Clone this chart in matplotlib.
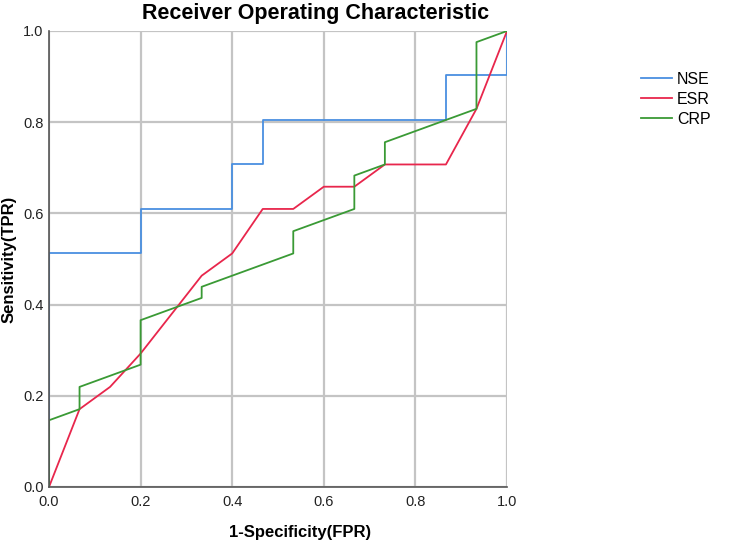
import numpy as np
import matplotlib
matplotlib.use("Agg")
import matplotlib.pyplot as plt

# ==== DATOS (FPR en quinceavos, TPR en cuarentaiunavos) ====
N_NEG = 15
N_POS = 41

nse_fp = [0, 0, 3, 3, 6, 6, 7, 7, 13, 13, 15, 15]
nse_tp = [0, 21, 21, 25, 25, 29, 29, 33, 33, 37, 37, 41]

esr_fp = [0, 1, 2, 3, 5, 6, 7, 8, 9, 10, 11, 13, 14, 15]
esr_tp = [0, 7, 9, 12, 19, 21, 25, 25, 27, 27, 29, 29, 34, 41]

crp_fp = [0, 0, 1, 1, 3, 3, 5, 5, 8, 8, 10, 10, 11, 11, 14, 14, 15]
crp_tp = [0, 6, 7, 9, 11, 15, 17, 18, 21, 23, 25, 28, 29, 31, 34, 40, 41]

series = [
    ("NSE", nse_fp, nse_tp, "#4a8fe0"),
    ("ESR", esr_fp, esr_tp, "#e8264c"),
    ("CRP", crp_fp, crp_tp, "#3a9a35"),
]
ticks = [0.0, 0.2, 0.4, 0.6, 0.8, 1.0]
# ======================

plt.rcParams['font.family'] = ['Liberation Sans', 'DejaVu Sans']

fig = plt.figure(figsize=(7.44, 5.47), dpi=100)
ax = fig.add_axes([49 / 744, 60 / 547, 458 / 744, 456 / 547])

for name, fp, tp, col in series:
    x = np.array(fp) / N_NEG
    y = np.array(tp) / N_POS
    ax.plot(x, y, color=col, lw=1.3, label=name, zorder=3)

ax.set_xlim(0, 1)
ax.set_ylim(0, 1)
ax.set_xticks(ticks)
ax.set_yticks(ticks)
ax.set_xticklabels([f"{t:.1f}" for t in ticks])
ax.set_yticklabels([f"{t:.1f}" for t in ticks])
ax.tick_params(length=0, labelsize=10.5, colors="#222222")
ax.tick_params(axis="x", pad=6)
ax.tick_params(axis="y", pad=4)
ax.grid(True, color="#c4c4c4", lw=1.6, zorder=0)
for s in ["top", "right"]:
    ax.spines[s].set_visible(False)
for s in ["left", "bottom"]:
    ax.spines[s].set_color("#555555")
    ax.spines[s].set_linewidth(1.2)
    ax.spines[s].set_zorder(4)

fig.text(316 / 744, 1 - 13 / 547, "Receiver Operating Characteristic",
         ha="center", va="center", fontsize=15.5, fontweight="bold")
fig.text(300 / 744, 1 - 533 / 547, "1-Specificity(FPR)",
         ha="center", va="center", fontsize=12, fontweight="bold")
fig.text(9 / 744, 1 - 259 / 547, "Sensitivity(TPR)", rotation=90,
         ha="center", va="center", fontsize=12, fontweight="bold")

ax.legend(loc="upper left", bbox_to_anchor=(641 / 744, 1 - 72 / 547),
          bbox_transform=fig.transFigure, frameon=False, fontsize=11.5,
          handlelength=1.95, handletextpad=0.3, labelspacing=0.3,
          borderaxespad=0, borderpad=0)

fig.savefig("out.png", dpi=100)
